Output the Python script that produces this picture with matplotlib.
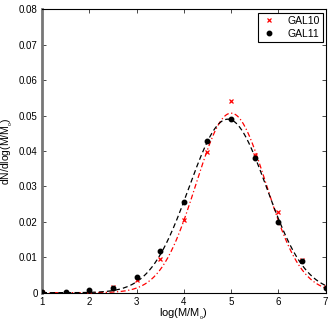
import numpy as np
import matplotlib
matplotlib.use("Agg")
import matplotlib.pyplot as plt

plt.rcParams['font.family'] = ['Liberation Sans', 'DejaVu Sans']
plt.rcParams['mathtext.fontset'] = 'custom'
plt.rcParams['mathtext.rm'] = 'Liberation Sans'
plt.rcParams['mathtext.it'] = 'Liberation Sans'

logm = [1, 1.5, 2, 2.5, 3, 3.5, 4, 4.5, 5, 5.5, 6, 6.5, 7]
gal10 = [0.0002, 0.0, 0.0005, 0.0016, 0.0035, 0.0095, 0.0205, 0.0397, 0.0541, 0.0390, 0.0227, 0.0091, 0.0017]
gal11 = [0.0003, 0.0001, 0.0008, 0.0014, 0.0044, 0.0117, 0.0257, 0.0429, 0.0490, 0.0380, 0.0201, 0.0090, 0.0013]

# Gaussian fit parameters (amplitude, mean, sigma)
fit10 = (0.0507, 5.00, 0.74)
fit11 = (0.0490, 4.93, 0.82)

fig = plt.figure(figsize=(3.34, 3.24), dpi=100)
ax = fig.add_axes([0.1257, 0.0966, 0.8493, 0.8744])

xx = np.linspace(1, 7, 400)
def gauss(p, x):
    a, m, s = p
    return a * np.exp(-(x - m) ** 2 / (2 * s ** 2))

ax.plot(xx, gauss(fit10, xx), color='red', ls='-.', lw=0.9, dashes=(4, 2, 1, 2), zorder=2)
ax.plot(xx, gauss(fit11, xx), color='black', ls='--', lw=0.9, dashes=(4, 2.5), zorder=2)
ax.plot(logm, gal10, ls='none', marker='x', color='red', ms=3, mew=0.9, label='GAL10', zorder=3)
ax.plot(logm, gal11, ls='none', marker='o', color='black', ms=3.2, label='GAL11', zorder=3)

ax.set_xlim(1, 7)
ax.set_ylim(0, 0.08)
ax.set_xticks([1, 2, 3, 4, 5, 6, 7])
ax.set_yticks([0, 0.01, 0.02, 0.03, 0.04, 0.05, 0.06, 0.07, 0.08])
ax.set_yticklabels(['0', '0.01', '0.02', '0.03', '0.04', '0.05', '0.06', '0.07', '0.08'])
ax.tick_params(direction='in', top=True, right=True, labelsize=7, length=3, width=0.5, pad=3)
for s in ax.spines.values():
    s.set_linewidth(0.8)
ax.spines['left'].set_color('#777777')
ax.spines['left'].set_linewidth(2)

ax.set_xlabel(r'log(M/M$_{_{\mathrm{o}}}$)', fontsize=8, labelpad=0)
ax.set_ylabel(r'dN/dlog(M/M$_{_{\mathrm{o}}}$)', fontsize=7.5, labelpad=3)

leg = ax.legend(loc='upper right', fontsize=7.5, frameon=True, fancybox=False,
                edgecolor='black', framealpha=1, borderaxespad=0.3, handlelength=1.5,
                handletextpad=1.0, borderpad=0.3, labelspacing=0.3)
leg.get_frame().set_linewidth(0.8)

fig.savefig('out.png', dpi=100)
